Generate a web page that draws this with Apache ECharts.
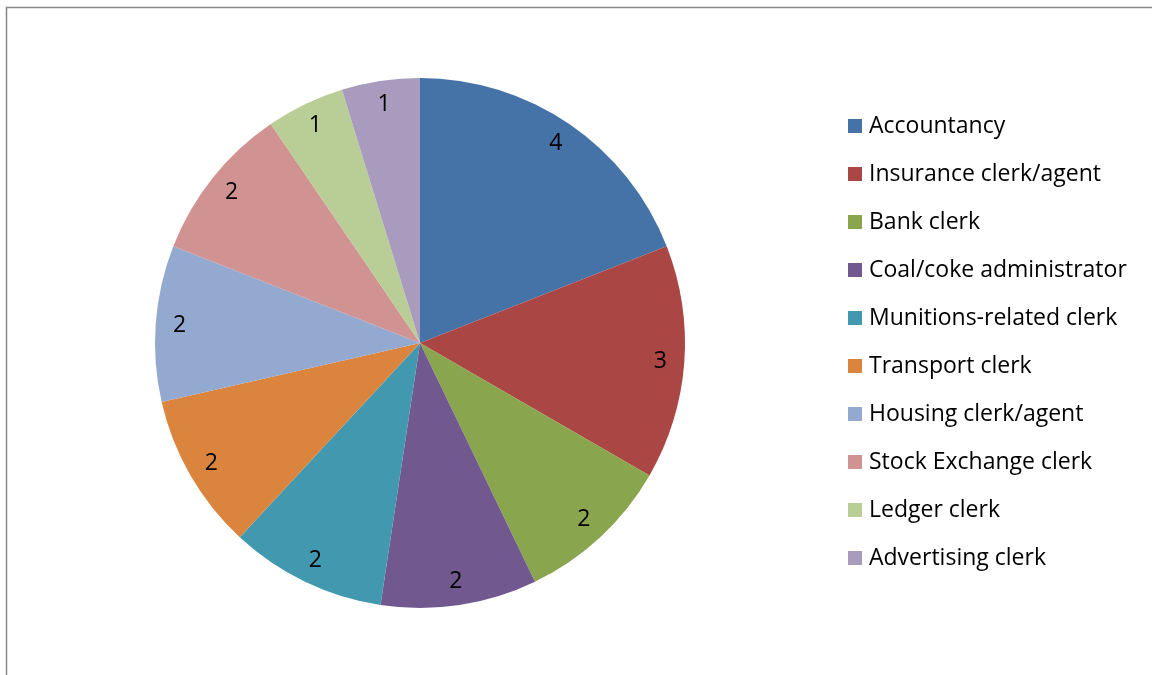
<!DOCTYPE html>
<html>
<head>
<meta charset="utf-8">
<script src="https://cdn.jsdelivr.net/npm/echarts@6/dist/echarts.min.js"></script>
<style>
  html, body { margin: 0; padding: 0; background: #fff; }
  #chart { width: 1152px; height: 675px; }
</style>
</head>
<body>
<div id="chart"></div>
<script>
// Occupations and their counts, clockwise from 12 o'clock
const occupations = [
  'Accountancy', 'Insurance clerk/agent', 'Bank clerk', 'Coal/coke administrator',
  'Munitions-related clerk', 'Transport clerk', 'Housing clerk/agent',
  'Stock Exchange clerk', 'Ledger clerk', 'Advertising clerk'
];
const counts = [4, 3, 2, 2, 2, 2, 2, 2, 1, 1];
const sliceColors = [
  '#4572A7', '#AA4643', '#89A54E', '#71588F', '#4198AF',
  '#DB843D', '#93A9CF', '#D19392', '#B9CD96', '#A99BBD'
];

const FONT = '"Open Sans", Lato, sans-serif';
const data = occupations.map((name, i) => ({
  name, value: counts[i], itemStyle: { color: sliceColors[i] }
}));

const chart = echarts.init(document.getElementById('chart'), null, { renderer: 'canvas' });
chart.setOption({
  animation: false,
  color: sliceColors,
  graphic: [{
    type: 'rect',
    shape: { x: 6.5, y: 7.5, width: 1300, height: 800 },
    style: { fill: 'none', stroke: '#888', lineWidth: 1.5 },
    silent: true
  }],
  legend: {
    orient: 'vertical',
    left: 848,
    top: 113,
    padding: 0,
    itemWidth: 14,
    itemHeight: 14,
    itemGap: 22,
    icon: 'rect',
    data: occupations,
    textStyle: { fontFamily: FONT, fontSize: 23, color: '#000', lineHeight: 26, padding: [0, 0, 0, 2] },
    selectedMode: false
  },
  series: [
    {
      // the filled pie
      type: 'pie',
      center: [420, 343],
      radius: [0, 265],
      startAngle: 90,
      clockwise: true,
      label: { show: false },
      labelLine: { show: false },
      itemStyle: { borderWidth: 0 },
      emphasis: { disabled: true },
      silent: true,
      data
    },
    {
      // transparent ring that only carries the value labels
      type: 'pie',
      center: [420, 343],
      radius: [211, 265],
      startAngle: 90,
      clockwise: true,
      label: {
        show: true,
        position: 'inside',
        formatter: '{c}',
        fontFamily: FONT,
        fontSize: 23,
        color: '#000'
      },
      labelLine: { show: false },
      itemStyle: { color: 'rgba(0,0,0,0)', borderWidth: 0 },
      emphasis: { disabled: true },
      silent: true,
      data: occupations.map((name, i) => ({ name, value: counts[i] }))
    }
  ]
});
</script>
</body>
</html>
